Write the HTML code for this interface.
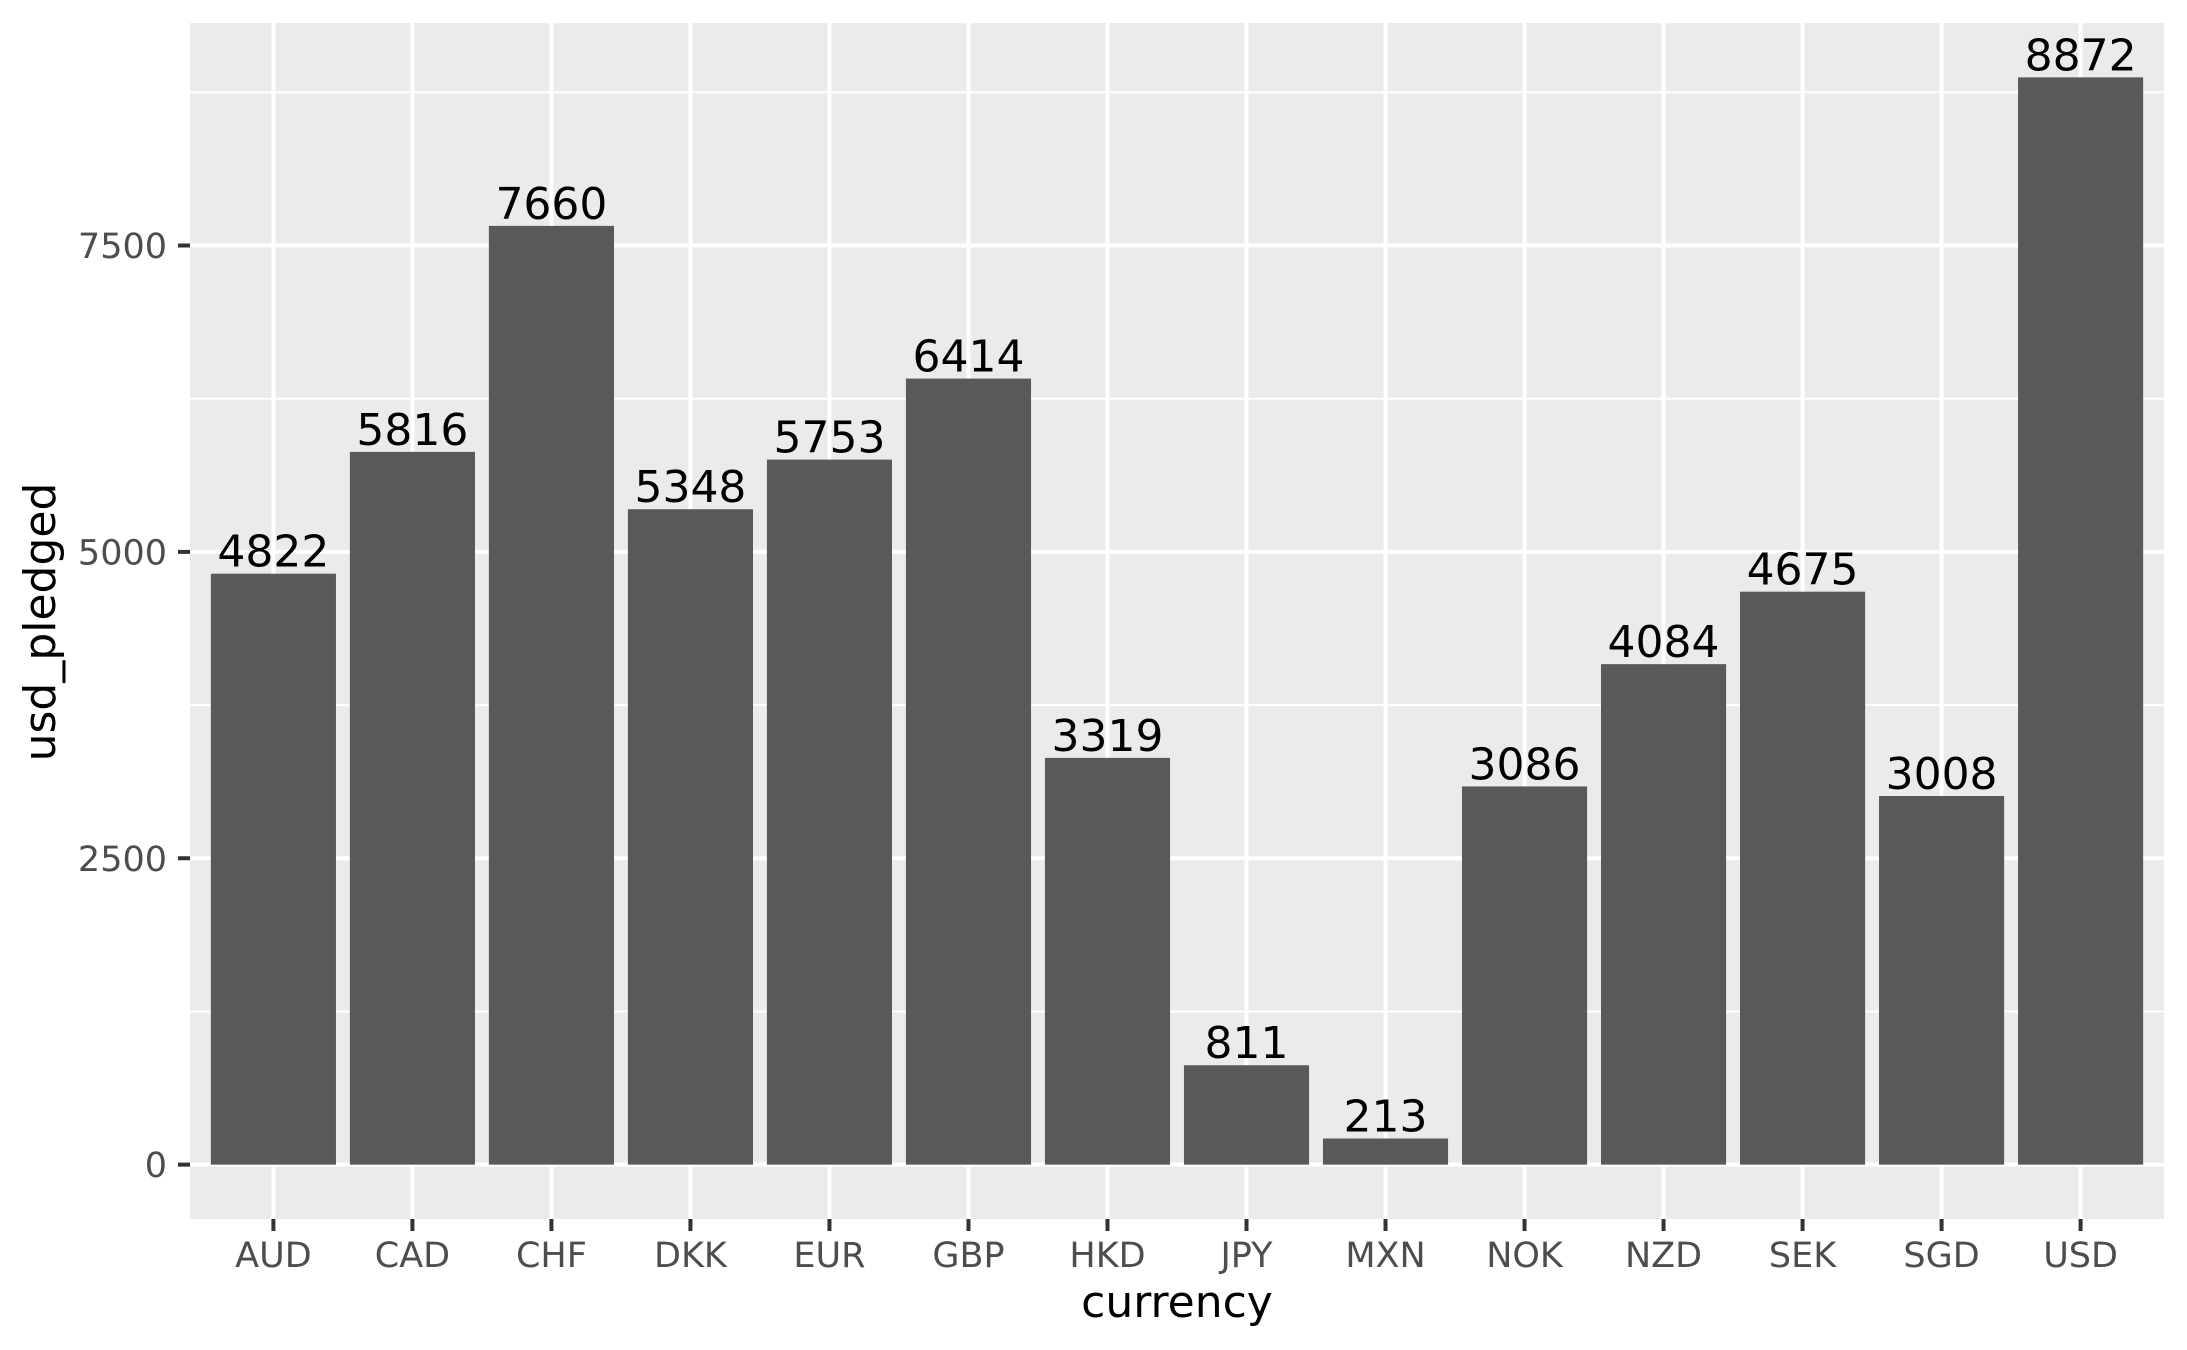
<!DOCTYPE html>
<html>
<head>
<meta charset="utf-8">
<style>
  html,body{margin:0;padding:0;background:#fff;}
  svg{display:block;font-family:"DejaVu Sans","Liberation Sans",sans-serif;}
</style>
</head>
<body>
<svg id="chart" width="2187" height="1350" viewBox="0 0 2187 1350" xmlns="http://www.w3.org/2000/svg">
  <rect x="0" y="0" width="2187" height="1350" fill="#ffffff"/>
  <rect x="190" y="23" width="1974" height="1196" fill="#ebebeb"/>
  <g id="grid"></g>
  <g id="bars"></g>
  <g id="labels"></g>
  <g id="yaxis"></g>
  <g id="xaxis"></g>
  <text x="1177" y="1317" font-size="44" text-anchor="middle" fill="#000">currency</text>
  <text transform="translate(55,622) rotate(-90)" font-size="44" text-anchor="middle" fill="#000">usd_pledged</text>
</svg>
<script>
const categories = ["AUD","CAD","CHF","DKK","EUR","GBP","HKD","JPY","MXN","NOK","NZD","SEK","SGD","USD"];
const values = [4822,5816,7660,5348,5753,6414,3319,811,213,3086,4084,4675,3008,8872];
const yTicks = [0,2500,5000,7500];
const yTickLabels = ["0","2500","5000","7500"];
const yMinor = [1250,3750,6250,8750];

const NS = "http://www.w3.org/2000/svg";
const panelL = 190, panelR = 2164, panelT = 23, panelB = 1219;
const maxV = Math.max(...values);
const yMinD = -0.05 * maxV, yMaxD = maxV * 1.05;
function y(v){ return panelB - (v - yMinD) / (yMaxD - yMinD) * (panelB - panelT); }
const step = (panelR - panelL) / (categories.length - 1 + 1.2);
function x(i){ return panelL + step * (0.6 + i); }
const barW = step * 0.9;

function mk(tag, attrs, parent){
  const el = document.createElementNS(NS, tag);
  for (const k in attrs) el.setAttribute(k, attrs[k]);
  parent.appendChild(el);
  return el;
}
const grid = document.getElementById('grid');
yMinor.forEach(v => {
  const l = mk('line', {x1:panelL, x2:panelR, y1:y(v), y2:y(v), stroke:'#fff', 'stroke-width':2}, grid);
  
  
});
yTicks.forEach(v => {
  const l = mk('line', {x1:panelL, x2:panelR, y1:y(v), y2:y(v), stroke:'#fff', 'stroke-width':4}, grid);
  
  
});
categories.forEach((c, i) => {
  const l = mk('line', {x1:x(i), x2:x(i), y1:panelT, y2:panelB, stroke:'#fff', 'stroke-width':4}, grid);
  
  
});

const bars = document.getElementById('bars');
const labels = document.getElementById('labels');
values.forEach((v, i) => {
  const r = mk('rect', {x:x(i) - barW/2, y:y(v), width:barW, height:y(0) - y(v), fill:'#595959'}, bars);
  
  
  const t = mk('text', {x:x(i), y:y(v) - 7, 'font-size':44, 'text-anchor':'middle', fill:'#000'}, labels);
  t.textContent = String(v);
  
  
});

const yaxis = document.getElementById('yaxis');
yTicks.forEach((v, i) => {
  const tk = mk('line', {x1:178, x2:panelL, y1:y(v), y2:y(v), stroke:'#333', 'stroke-width':4}, yaxis);
  
  
  const t = mk('text', {x:167, y:y(v) + 12.5, 'font-size':35, 'text-anchor':'end', fill:'#4d4d4d'}, yaxis);
  t.textContent = yTickLabels[i];
  
  
});
const xaxis = document.getElementById('xaxis');
categories.forEach((c, i) => {
  const tk = mk('line', {x1:x(i), x2:x(i), y1:panelB, y2:1231, stroke:'#333', 'stroke-width':4}, xaxis);
  
  
  const t = mk('text', {x:x(i), y:1267, 'font-size':35, 'text-anchor':'middle', fill:'#4d4d4d'}, xaxis);
  t.textContent = c;
  
  
});
</script>
</body>
</html>
